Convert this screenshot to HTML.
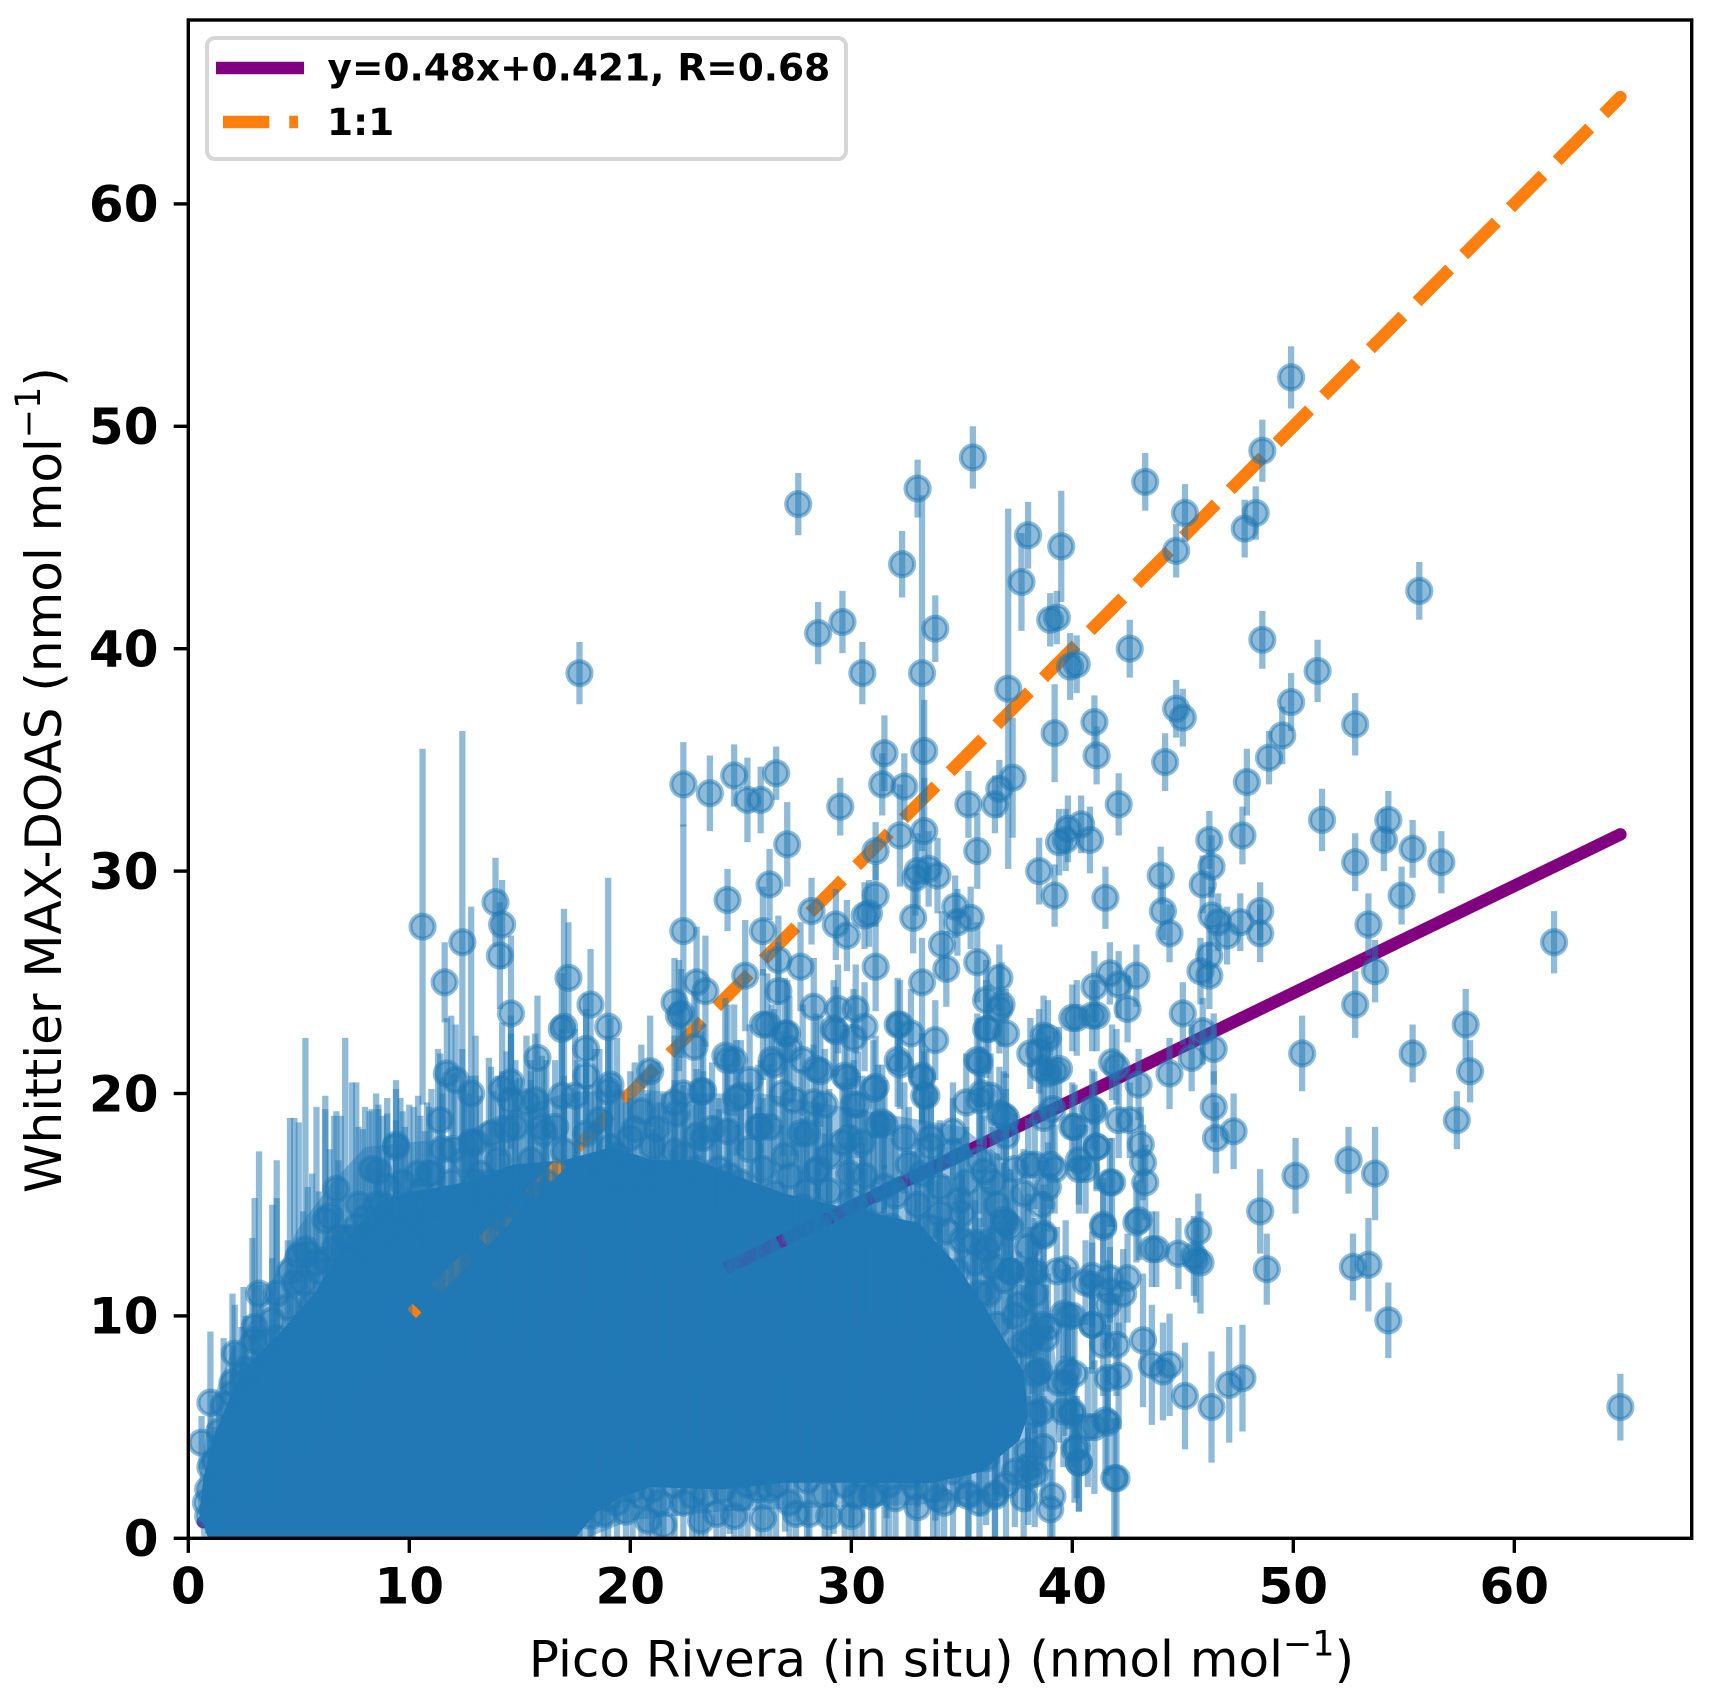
<!DOCTYPE html>
<html lang="en">
<head>
<meta charset="utf-8">
<title>Whittier MAX-DOAS vs Pico Rivera in situ</title>
<style>
html,body{margin:0;padding:0;background:#fff;}
svg{display:block;}
text{font-family:"DejaVu Sans","Liberation Sans",sans-serif;fill:#000;}
</style>
</head>
<body>
<svg id="chart" xmlns="http://www.w3.org/2000/svg" width="1711" height="1700" viewBox="0 0 1711 1700">
  <defs><clipPath id="plot-clip"><rect x="188.3" y="20" width="1503.4" height="1518.3"/></clipPath></defs>
  <rect x="188.3" y="20" width="1503.4" height="1518.3" fill="#fff"/>
  <g id="marks" clip-path="url(#plot-clip)"></g>
  <g id="axes"></g>
  <text x="941.5" y="1676.5" font-size="50" text-anchor="middle">Pico Rivera (in situ) (nmol mol<tspan dy="-21" font-size="35">−1</tspan><tspan dy="21">)</tspan></text>
  <text transform="translate(61,780) rotate(-90)" font-size="50" text-anchor="middle">Whittier MAX-DOAS (nmol mol<tspan dy="-21" font-size="35">−1</tspan><tspan dy="21">)</tspan></text>
  <g>
    <rect x="207" y="38" width="639" height="121" rx="8" ry="8" fill="#fff" fill-opacity="0.8" stroke="#d6d6d6" stroke-width="4"/>
    <line x1="216" y1="68" x2="304" y2="68" stroke="#800080" stroke-width="12.5"/>
    <text x="327.5" y="80.5" font-size="37.5" font-weight="700">y=0.48x+0.421, R=0.68</text>
    <line x1="223" y1="122" x2="298" y2="122" stroke="#ff7f0e" stroke-width="12.5" stroke-dasharray="46.25 20"/>
    <text x="327" y="135" font-size="37.5" font-weight="700">1:1</text>
  </g>
</svg>
<script>
// Tick labels
const xTicks = [0, 10, 20, 30, 40, 50, 60];
const yTicks = [0, 10, 20, 30, 40, 50, 60];

// Regression and 1:1 lines (data units)
const fitX = [0.66, 64.8];
const fitY = [0.74, 31.65];
const oneToOneX = [0.66, 64.8];
const oneToOneY = [0.66, 64.8];

// Stretches of each line hidden by overplotted points (x in data units)
const fitHiddenStart = [0.66, 24.3, 27.0, 29.1, 31.0, 32.7];
const fitHiddenEnd = [24.3, 26.7, 28.8, 30.7, 32.4, 35.4];
const fitHiddenOpacity = [1, 0.85, 0.85, 0.85, 0.85, 0.8];
const oneHiddenStart = [0.66, 10.35, 11.2, 13.3, 15.4, 18.1, 20.4];
const oneHiddenEnd = [10.1, 11.2, 13.0, 14.9, 16.2, 19.1, 21.3];
const oneHiddenOpacity = [1, 1, 0.85, 0.75, 0.5, 0.4, 0.4];

// Outline of the region where overplotted points merge into a solid colour
const coreX = [0.5,0.7,1.2,2.0,2.6,4.1,5.7,7.2,8.7,10.2,12.5,14.7,17,19.2,21,23,25.6,27,30,33,34.6,36,37,37.8,38,37.6,35.9,33.7,31.4,29.2,26.9,24.2,20.9,19.5,18.5,17.5,0.9];
const coreY = [1.2,2.8,4.7,6.6,7.7,9.2,11,13.5,15.2,15.6,16,16.8,17,17.6,17,17,16,15.5,14.8,14.2,12.5,10.5,8.8,7.5,5.5,4.4,3,2.5,2.5,2.5,2.5,2.2,2.3,1.8,1.2,0,0];

// Outline of the surrounding area where overplotted points are partly merged
const haloX = [0.4,1,2,3,4,5,6.5,8,10,12,14,17,20,23,26,29,32,35,37,38.5,39,39.5,39,37,33,29,24,20,18,0.6];
const haloY = [2,6,8.5,10,12,14,16,17.6,17.8,18,19,20,20.2,20,20,19.5,19,18.5,17,14,10,6,3,2,1.5,1.4,1.2,0.8,0,0];

// Points: Pico Rivera in situ
const insituX = [
49.9,35.5,48.6,43.3,33.0,27.6,45.1,48.3,47.8,38.0,
39.5,44.7,32.3,37.7,55.7,39.0,39.3,29.6,33.8,28.5,
42.6,48.6,17.7,30.5,33.2,39.9,40.2,51.1,37.1,49.9,
44.7,45.0,52.8,41.0,39.2,49.5,33.3,31.5,41.1,48.9,
44.2,26.6,24.7,37.3,36.7,22.4,23.6,31.4,32.4,47.9,
25.3,25.9,35.3,36.5,29.5,42.1,51.3,54.3,40.4,39.8,
33.3,32.2,47.7,46.2,54.1,39.4,39.7,40.8,27.1,31.1,
35.7,55.4,56.7,52.8,38.5,33.5,33.9,33.0,32.9,44.0,
46.3,45.9,26.3,31.1,39.2,54.9,24.4,41.5,13.9,34.7,
30.8,30.6,28.2,44.1,46.3,46.6,47.6,48.5,32.8,35.4,
34.8,14.2,10.6,22.4,26.0,29.3,29.8,53.4,44.4,47.0,
48.5,61.8,12.4,34.1,46.2,14.1,26.7,35.7,31.1,34.3,
46.2,45.8,53.7,41.7,42.9,36.7,17.2,25.2,11.6,23.0,
33.2,42.1,41.0,27.7,26.7,23.4,18.2,36.1,36.8,22.0,
29.4,30.2,42.5,52.8,14.6,45.0,40.9,41.1,40.0,22.3,
57.8,32.2,30.6,19.0,17.0,16.9,26.0,36.2,37.0,32.7,
29.3,27.0,45.9,38.9,33.8,22.9,18.0,46.4,38.1,50.4,
55.4,15.8,24.4,24.7,35.8,32.2,41.8,45.4,26.5,28.4,
58.0,39.2,38.9,44.4,33.2,29.8,11.7,12.1,14.6,14.2,
43.0,31.0,23.3,12.8,19.0,20.9,33.3,25.0,36.3,35.8,
16.9,30.1,28.8,27.4,39.1,46.4,40.9,37.0,42.6,11.4,
31.5,40.1,47.3,57.4,46.5,43.1,41.1,13.0,9.4,8.6,
43.2,38.3,40.3,40.6,39.2,52.5,53.7,50.1,43.3,41.8,
37.8,38.9,48.5,43.0,41.4,42.9,38.6,37.0,45.7,38.7,
43.6,43.8,44.8,45.5,45.8,45.6,38.1,40.6,40.9,39.3,
42.5,42.3,41.6,48.8,52.7,53.4,54.3,40.9,40.0,39.6,
64.8,47.7,47.1,46.3,45.1,44.4,44.1,43.6,43.2,42.0,
42.1,42.0,41.6,41.0,40.3,40.2,40.0,40.1,39.7,39.1,
39.0,38.7,38.6,38.5,38.0,38.0,36.5,35.3,33.9,38.2,
38.9,37.8,38.3,37.6,37.2,36.4,35.6,34.3,33.5,36.6,
36.0,35.2,34.6,33.6,32.6,31.5,30.6,29.6,28.4,27.2,
26.3,25.4,24.5,23.3,22.4,21.2,20.0,19.1,18.0,17.0,
16.0,15.3,14.4,13.2,12.0,11.0,10.4,9.0,8.0,7.1,
6.7,6.2,5.3,5.0,4.6,4.0,3.2,3.8,2.9,3.0,
2.1,1.0,0.6,1.6,2.4,1.2,0.9,1.3,5.8,7.6,
8.5,9.6,10.8,12.5,13.8,15.0,16.2,17.6,18.6,19.8,
20.8,21.8,22.8,23.8,24.8,25.8,26.8,27.8,28.8,29.8,
30.8,31.8,32.8,33.8,34.8,35.8,36.6,37.2,37.0,36.6,
35.8,34.8,33.8,32.9,31.7,31.6,30.9,30.2,29.2,28.1,
27.5,26.3,25.3,24.5,23.9,22.4,21.5,21.0,20.1,19.4,
18.8,18.3,17.7,17.0,16.7,30.0,27.0,23.0,33.0,35.0,
20.5,22.0,23.7,25.9,26.9,28.0,29.0,30.5,31.2,32.4,
33.2,34.0,35.0,36.3,37.4,37.2,36.9,10.0,11.5,12.7,
14.2,15.5,18.2,19.6,21.5,24.0,27.5,30.5,33.4,35.5,
4.8,6.2,7.4,5.6,4.0,3.0,2.0,2.5,6.6,6.9,
7.9,8.2,8.6,9.0,9.4,9.8,10.2,10.7,11.9,11.3,
12.4,13.0,13.6,14.2,14.8,15.5,16.2,17.6,18.4,19.4,
5.4,6.4,8.3,9.4,10.9,12.8,13.7,14.8,16.1,16.6,
15.7,14.6,17.5,18.0,19.1,18.6,19.4,21.4,22.1,20.2,
22.2,26.2,28.3,29.2,30.1,32.1,36.1,36.7,40.2,27.1,
24.3,26.4,27.8,28.6,27.2,29.7,32.1,33.2,35.7,38.5,
38.6,39.4,38.7,42.0,23.2,22.4,24.8,25.4,28.3,31.1,
30.3,33.4,35.9,35.2,36.7,41.0,40.0,41.1,42.1,38.0,
39.0,40.3,41.7,41.4,23.0,24.4,25.8,27.7,29.9,31.4,
34.6,33.6,36.9,37.0,38.7,21.2,28.5,29.9,36.4,35.8,
34.9,36.9,38.0,38.7,36.1,37.2,38.3,39.7,40.9,41.7,
41.7,39.8,37.4,38.6,38.8,40.9,38.0,41.4,39.8,39.4,
41.6,38.3,38.3,39.6,40.7,41.5,40.0,40.1,40.3,41.9,
38.3,38.0,37.4,36.5,36.1,35.3,32.6,34.6,33.7,31.0,
29.7,28.8,28.0,27.2,26.6,25.8,25.0,24.2,23.4,22.8,
22.0,21.3,20.5,19.8,19.0,18.2,30.5,31.5,32.0,34.2,
35.8,37.0,37.8,33.0,29.0,26.0,24.7,23.2,30.0,20.8,
20.0,21.0,22.0,23.0,24.0,25.0,26.0,27.0,28.0,29.0,
30.0,31.0,32.0,33.0,34.0,35.0,35.6,36.2,33.0,31.5,
22.5,24.5,26.5,28.5,30.5,32.0,34.0,21.0,19.0,17.0,
15.5,14.0,12.5,11.5,10.5,9.7,8.8,7.7,6.8,5.9,
5.2,4.5,3.8,3.3,2.6,2.0,1.4,1.0,0.9,0.8
];

// Points: Whittier MAX-DOAS
const maxdoasY = [
52.2,48.6,48.9,47.5,47.2,46.5,46.1,46.1,45.4,45.1,
44.6,44.4,43.8,43.0,42.6,41.3,41.4,41.2,40.9,40.7,
40.0,40.4,38.9,38.9,38.9,39.2,39.3,39.0,38.2,37.6,
37.3,36.9,36.6,36.7,36.2,36.1,35.4,35.3,35.2,35.1,
34.9,34.4,34.3,34.2,33.7,33.9,33.5,33.9,33.8,34.0,
33.2,33.2,33.0,33.0,32.9,33.0,32.3,32.3,32.1,31.9,
31.8,31.6,31.6,31.4,31.4,31.3,31.4,31.4,31.2,30.9,
30.9,31.0,30.4,30.4,30.0,30.1,29.8,30.0,29.7,29.8,
30.2,29.4,29.4,28.9,28.9,28.9,28.7,28.8,28.6,28.4,
28.1,28.0,28.2,28.2,28.0,27.7,27.7,28.2,27.9,27.9,
27.7,27.6,27.5,27.3,27.3,27.6,27.1,27.6,27.2,27.1,
27.2,26.8,26.8,26.7,26.2,26.2,26.0,25.9,25.7,25.6,
25.3,25.5,25.5,25.4,25.3,25.2,25.2,25.3,25.0,25.0,
25.0,24.9,24.8,25.7,24.6,24.6,24.0,24.2,24.0,24.1,
23.8,23.8,23.8,24.0,23.6,23.6,23.5,23.5,23.4,23.6,
23.1,23.1,23.0,23.0,23.0,22.9,23.1,22.9,22.7,22.7,
22.8,22.7,22.8,22.5,22.4,22.1,22.0,22.0,21.8,21.8,
21.8,21.6,21.5,21.5,21.4,21.3,21.4,21.6,21.3,21.1,
21.0,21.0,20.9,20.9,20.7,20.7,20.9,20.6,20.5,20.2,
20.4,20.2,20.1,20.0,20.1,21.0,19.9,19.9,19.9,19.7,
19.9,19.5,19.5,19.7,19.3,19.4,19.3,18.9,18.8,18.8,
18.6,18.5,18.3,18.8,18.0,17.7,17.6,17.8,17.6,16.5,
16.9,16.8,17.0,16.6,16.6,17.0,16.4,16.3,16.0,16.0,
15.5,15.8,14.7,14.3,14.0,14.2,15.0,14.2,13.8,13.6,
13.0,13.0,12.8,12.7,12.4,12.5,12.0,11.5,11.4,12.0,
11.7,11.0,10.5,12.1,12.2,12.3,9.8,9.6,10.0,10.1,
5.9,7.2,6.9,5.9,6.4,7.8,7.5,7.8,8.9,2.7,
7.3,8.7,5.2,5.0,3.4,4.1,5.7,7.4,7.0,1.9,
1.3,4.1,5.7,7.5,2.8,3.2,1.9,1.9,1.8,9.0,
9.5,8.8,11.0,10.5,12.0,12.2,13.3,13.8,14.0,15.0,
16.5,16.0,17.4,17.6,16.8,15.8,16.3,17.8,16.5,16.3,
18.5,17.5,16.3,18.0,17.2,18.4,18.0,17.6,18.2,17.4,
18.5,19.6,18.4,16.4,17.5,16.4,16.4,15.8,14.4,13.5,
15.7,14.3,13.0,12.7,12.0,11.0,11.0,8.0,7.5,8.9,
8.3,6.1,4.3,6.0,5.5,3.5,1.0,2.2,12.4,14.0,
15.0,14.8,15.0,15.2,15.6,16.2,15.5,15.6,16.0,15.4,
16.2,15.4,15.7,15.0,14.6,15.2,14.6,14.9,14.2,13.8,
14.2,14.0,13.6,12.6,12.0,11.0,9.6,8.0,6.0,4.5,
3.6,4.0,3.2,2.3,2.4,3.5,1.9,1.9,3.2,1.1,
1.1,2.2,2.4,3.2,1.1,1.6,0.6,2.2,2.2,1.6,
1.1,2.2,1.3,1.0,0.6,4.0,3.8,3.5,4.4,5.2,
19.2,19.6,18.4,18.5,20.0,18.2,17.2,17.8,18.6,18.0,
16.4,15.8,14.6,13.4,16.6,14.0,11.6,13.5,14.0,14.0,
14.4,14.5,14.0,13.6,14.0,13.8,13.5,12.8,12.0,9.5,
11.5,12.5,13.5,10.5,9.0,9.5,7.0,7.3,13.0,12.5,
13.0,13.0,13.5,14.0,14.0,14.0,15.0,14.0,16.0,15.0,
15.0,16.0,16.0,15.0,15.0,15.5,16.0,16.5,16.0,16.5,
12.8,14.5,16.6,17.7,16.4,17.8,18.2,18.5,18.2,18.5,
19.7,19.7,19.9,20.8,20.4,18.8,17.2,16.4,19.1,18.4,
23.5,23.1,23.9,22.9,22.5,23.1,22.9,23.8,23.4,22.7,
21.7,21.5,21.5,21.0,22.0,20.8,21.5,20.8,21.5,21.9,
21.1,21.1,22.6,21.2,20.1,20.0,19.8,20.6,19.6,20.3,
19.5,19.9,20.0,19.6,19.1,19.2,18.5,17.6,18.8,16.8,
16.8,16.6,16.0,14.1,18.1,18.3,18.5,18.2,18.0,18.7,
18.3,18.0,19.0,18.1,18.9,16.4,16.6,16.4,16.0,17.0,
15.2,14.3,13.1,13.7,13.0,12.0,12.0,12.1,11.8,11.7,
11.1,10.0,10.0,9.6,9.0,9.6,8.7,8.7,7.5,7.0,
7.2,7.4,5.6,5.7,5.0,5.3,5.6,4.0,3.4,2.7,
2.9,3.9,3.0,2.0,3.6,2.0,2.8,3.0,2.2,2.0,
2.4,2.0,2.6,1.6,2.4,2.2,1.8,2.2,2.0,1.9,
2.4,1.6,1.9,1.2,1.8,1.0,2.8,3.2,1.8,1.6,
1.6,2.4,1.8,1.4,1.0,0.9,1.0,0.8,1.0,0.8,
16.4,17.6,17.4,16.6,16.6,16.0,16.6,17.2,15.6,15.6,
15.2,15.0,15.4,15.0,14.6,13.4,12.4,11.0,13.0,13.4,
15.6,15.2,15.5,14.0,13.6,12.6,11.5,14.6,15.0,15.6,
17.0,17.0,17.0,17.5,15.6,16.0,15.0,15.0,13.5,12.0,
11.5,10.4,9.8,8.8,7.6,6.5,4.8,3.2,2.2,1.6
];

// Points: half-length of each vertical error bar
const maxdoasErr = [
1.4,1.4,1.4,1.3,1.3,1.4,1.3,1.2,1.3,1.5,
2.5,1.2,1.5,2.2,1.3,1.2,1.2,1.4,1.5,1.4,
1.3,1.3,1.4,1.4,8.0,1.5,1.3,1.4,8.1,1.3,
1.3,1.3,1.4,1.2,2.2,1.3,2.3,1.7,1.3,1.2,
1.3,1.2,1.4,2.7,1.3,1.9,1.7,1.4,1.5,1.5,
1.9,1.5,1.5,1.3,1.3,1.4,1.4,1.3,1.3,1.5,
2.4,2.3,1.3,1.3,1.4,1.5,1.4,1.5,1.9,1.3,
1.7,1.3,1.4,1.3,1.5,1.7,1.7,1.7,1.7,1.3,
1.4,1.3,1.6,1.4,1.4,1.3,1.4,1.4,2.0,1.4,
1.5,1.5,1.5,1.3,1.3,1.3,1.3,1.3,1.6,1.4,
1.5,2.0,8.0,4.8,2.0,1.6,1.6,1.4,1.3,1.3,
1.3,1.4,9.5,1.5,1.3,2.4,2.0,1.8,2.0,1.7,
1.5,1.5,1.4,1.4,1.4,1.5,2.5,2.5,1.8,2.5,
2.0,1.5,1.6,2.0,2.2,2.5,2.5,1.8,1.9,2.0,
2.0,2.0,1.5,1.5,3.5,1.4,1.6,1.6,1.5,2.0,
1.6,2.0,2.0,6.7,5.3,2.5,2.5,2.0,2.0,2.0,
2.0,2.5,1.5,1.7,1.8,2.5,2.5,1.6,1.6,1.7,
1.3,2.8,2.5,2.5,2.0,2.0,1.7,1.5,2.5,2.5,
1.4,1.8,1.7,1.6,2.0,2.2,2.5,2.5,3.0,3.0,
1.6,2.2,3.0,8.4,2.5,2.5,2.0,2.5,1.9,2.0,
3.0,2.0,2.5,2.5,2.0,1.6,1.8,2.0,1.7,3.0,
2.0,1.9,1.7,1.3,1.6,1.7,2.0,3.0,3.0,3.0,
1.7,2.0,2.0,2.0,2.0,1.5,2.1,1.7,1.7,2.0,
2.0,2.0,1.9,1.8,2.0,1.8,2.0,2.0,1.7,2.0,
1.7,1.7,1.6,1.8,2.3,1.9,2.0,1.9,1.9,2.0,
2.0,2.0,2.0,1.6,1.5,2.1,1.7,2.0,2.2,2.0,
1.5,2.4,2.6,2.5,2.4,2.3,2.2,2.7,3.0,2.7,
2.4,2.3,2.4,3.0,2.2,2.3,2.5,2.7,2.4,2.0,
1.8,2.3,2.4,2.5,2.2,2.0,2.0,2.1,2.0,2.5,
2.4,2.6,2.3,2.4,2.4,2.4,2.4,2.5,2.5,2.3,
2.5,2.5,2.4,2.5,2.6,2.8,3.0,2.7,3.0,3.0,
2.8,3.0,3.0,3.0,3.2,3.0,3.0,3.2,3.2,3.4,
3.2,3.0,3.5,3.5,3.4,3.8,3.5,4.0,5.0,9.0,
3.5,5.0,9.5,6.0,6.9,6.0,6.4,7.0,6.0,2.5,
2.2,3.2,1.2,3.0,4.0,1.5,0.8,1.4,7.0,6.5,
5.0,5.0,4.6,5.0,4.5,4.5,4.5,4.5,4.2,4.2,
3.8,4.0,3.8,4.0,4.0,4.2,4.0,4.0,4.0,4.0,
4.0,4.0,3.8,3.5,3.5,3.4,3.2,3.0,3.0,2.8,
2.6,2.6,2.4,2.3,2.4,2.6,2.2,2.2,3.0,1.8,
1.8,2.3,2.4,3.0,1.6,1.8,1.4,2.2,2.4,1.8,
1.6,2.2,1.6,1.4,1.2,3.5,3.5,3.5,3.0,3.0,
3.0,3.0,3.0,3.0,2.8,3.0,3.0,3.0,2.7,2.5,
3.0,3.0,3.0,2.8,2.5,2.6,2.6,6.0,6.0,6.0,
5.5,6.5,6.4,6.5,6.0,5.5,5.0,5.0,4.8,4.2,
7.4,7.4,7.0,5.9,6.3,5.8,4.0,4.0,6.0,6.5,
5.4,6.2,5.8,5.1,4.8,4.5,4.4,4.3,7.5,7.0,
7.0,6.6,5.6,6.0,5.6,6.0,5.5,5.0,6.0,6.0,
3.0,3.0,2.7,2.5,3.0,3.0,3.0,3.0,3.0,3.0,
3.0,3.0,3.0,3.0,3.0,3.2,3.2,3.2,3.0,3.0,
2.5,2.3,2.2,2.2,2.2,2.1,2.2,2.0,1.7,2.4,
2.6,2.5,2.5,2.5,2.4,2.3,2.1,2.2,2.1,1.9,
2.0,1.9,1.8,1.7,2.7,3.0,2.6,2.5,2.6,2.3,
2.4,2.1,2.1,2.2,2.1,1.8,2.0,1.9,1.7,2.1,
2.0,2.0,2.0,2.1,3.0,3.0,2.8,2.9,2.7,2.6,
2.2,2.4,2.0,2.1,2.0,3.2,3.0,3.0,2.5,2.4,
2.8,2.6,2.4,2.2,2.8,2.6,2.4,2.2,2.0,2.0,
2.0,2.3,2.6,2.5,2.4,2.2,2.7,2.3,2.6,2.7,
2.4,2.7,2.6,2.5,2.7,2.4,2.5,2.4,2.2,2.7,
2.4,2.5,2.5,2.1,3.0,2.1,2.9,3.0,2.4,2.1,
2.5,2.2,2.8,1.9,2.6,2.4,2.0,2.4,2.2,2.1,
2.6,1.8,2.1,1.5,2.0,1.3,3.0,3.4,2.0,1.8,
1.8,2.6,2.0,1.6,1.2,1.1,1.2,1.0,1.2,1.0,
3.4,3.2,3.2,3.2,3.2,3.4,3.2,3.0,3.4,3.4,
3.4,3.2,3.0,3.0,3.0,3.0,2.8,2.8,3.0,3.4,
3.6,3.6,3.4,3.6,3.6,3.2,3.0,3.8,4.2,4.2,
3.6,3.8,3.4,3.2,3.4,3.2,4.0,3.5,3.5,3.6,
3.2,3.0,2.8,2.6,2.4,2.2,1.6,1.2,1.0,0.8
];

const NS = 'http://www.w3.org/2000/svg';
const plotLeft = 188.3, plotRight = 1691.7, plotTop = 20, plotBottom = 1538.3;
const xScale = 22.1, yScale = 22.24;
function sx(v) { return plotLeft + v * xScale; }
function sy(v) { return plotBottom - v * yScale; }
function lineAt(xs, ys, x) { return ys[0] + (x - xs[0]) * (ys[1] - ys[0]) / (xs[1] - xs[0]); }
function make(tag, attrs) {
  const el = document.createElementNS(NS, tag);
  for (const k in attrs) el.setAttribute(k, attrs[k]);
  return el;
}

const marks = document.getElementById('marks');
const axes = document.getElementById('axes');

// Partly merged area around the solid region
const haloPts = haloX.map((v, i) => sx(v) + ',' + sy(haloY[i])).join(' ');
const halo = make('polygon', {points: haloPts, fill: '#2178b5', 'fill-opacity': 0.45});


marks.appendChild(halo);

// Solid region of merged points
const corePts = coreX.map((v, i) => sx(v) + ',' + sy(coreY[i])).join(' ');
const core = make('polygon', {points: corePts, fill: '#2178b5'});


marks.appendChild(core);

// 1:1 line
const oneLine = make('line', {x1: sx(oneToOneX[0]), y1: sy(oneToOneY[0]), x2: sx(oneToOneX[1]), y2: sy(oneToOneY[1]), stroke: '#ff7f0e', 'stroke-width': 12.5, 'stroke-dasharray': '46.25 20'});


marks.appendChild(oneLine);
const oneCap = make('circle', {cx: sx(oneToOneX[1]), cy: sy(oneToOneY[1]), r: 6.25, fill: '#ff7f0e'});


marks.appendChild(oneCap);

// Regression line
const fitLine = make('line', {x1: sx(fitX[0]), y1: sy(fitY[0]), x2: sx(fitX[1]), y2: sy(fitY[1]), stroke: '#800080', 'stroke-width': 12.5, 'stroke-linecap': 'round'});


marks.appendChild(fitLine);

// Parts of the lines buried under the point cloud
oneHiddenStart.forEach(function (s, i) {
  const e = oneHiddenEnd[i];
  const seg = make('line', {x1: sx(s), y1: sy(lineAt(oneToOneX, oneToOneY, s)), x2: sx(e), y2: sy(lineAt(oneToOneX, oneToOneY, e)), stroke: '#2178b5', 'stroke-width': 15, 'stroke-opacity': oneHiddenOpacity[i]});
  
  
  marks.appendChild(seg);
});
fitHiddenStart.forEach(function (s, i) {
  const e = fitHiddenEnd[i];
  const seg = make('line', {x1: sx(s), y1: sy(lineAt(fitX, fitY, s)), x2: sx(e), y2: sy(lineAt(fitX, fitY, e)), stroke: '#2178b5', 'stroke-width': 15, 'stroke-opacity': fitHiddenOpacity[i]});
  
  
  marks.appendChild(seg);
});

// Error bars and markers
const count = Math.min(insituX.length, maxdoasY.length, maxdoasErr.length);
for (let i = 0; i < count; i++) {
  const cx = sx(insituX[i]);
  const cy = sy(maxdoasY[i]);
  const bar = make('line', {x1: cx, x2: cx, y1: sy(maxdoasY[i] - maxdoasErr[i]), y2: sy(maxdoasY[i] + maxdoasErr[i]), stroke: '#1f77b4', 'stroke-opacity': 0.5, 'stroke-width': 6.25});
  
  
  marks.appendChild(bar);
  const dot = make('circle', {cx: cx, cy: cy, r: 12, fill: '#1f77b4', 'fill-opacity': 0.5, stroke: '#1f77b4', 'stroke-opacity': 0.5, 'stroke-width': 4.2});
  
  
  marks.appendChild(dot);
}

// Frame
const frame = make('rect', {x: plotLeft, y: plotTop, width: plotRight - plotLeft, height: plotBottom - plotTop, fill: 'none', stroke: '#000', 'stroke-width': 3.4});


axes.appendChild(frame);

// X ticks
xTicks.forEach(function (t) {
  const tick = make('line', {x1: sx(t), x2: sx(t), y1: plotBottom, y2: plotBottom + 14.6, stroke: '#000', 'stroke-width': 3.4});
  
  
  axes.appendChild(tick);
  const label = make('text', {x: sx(t), y: 1603.5, 'font-size': 50, 'font-weight': 700, 'text-anchor': 'middle'});
  
  
  label.textContent = String(t);
  axes.appendChild(label);
});

// Y ticks
yTicks.forEach(function (t) {
  const tick = make('line', {x1: plotLeft - 14.6, x2: plotLeft, y1: sy(t), y2: sy(t), stroke: '#000', 'stroke-width': 3.4});
  
  
  axes.appendChild(tick);
  const label = make('text', {x: 158.5, y: sy(t) + 17.8, 'font-size': 50, 'font-weight': 700, 'text-anchor': 'end'});
  
  
  label.textContent = String(t);
  axes.appendChild(label);
});
</script>
</body>
</html>
